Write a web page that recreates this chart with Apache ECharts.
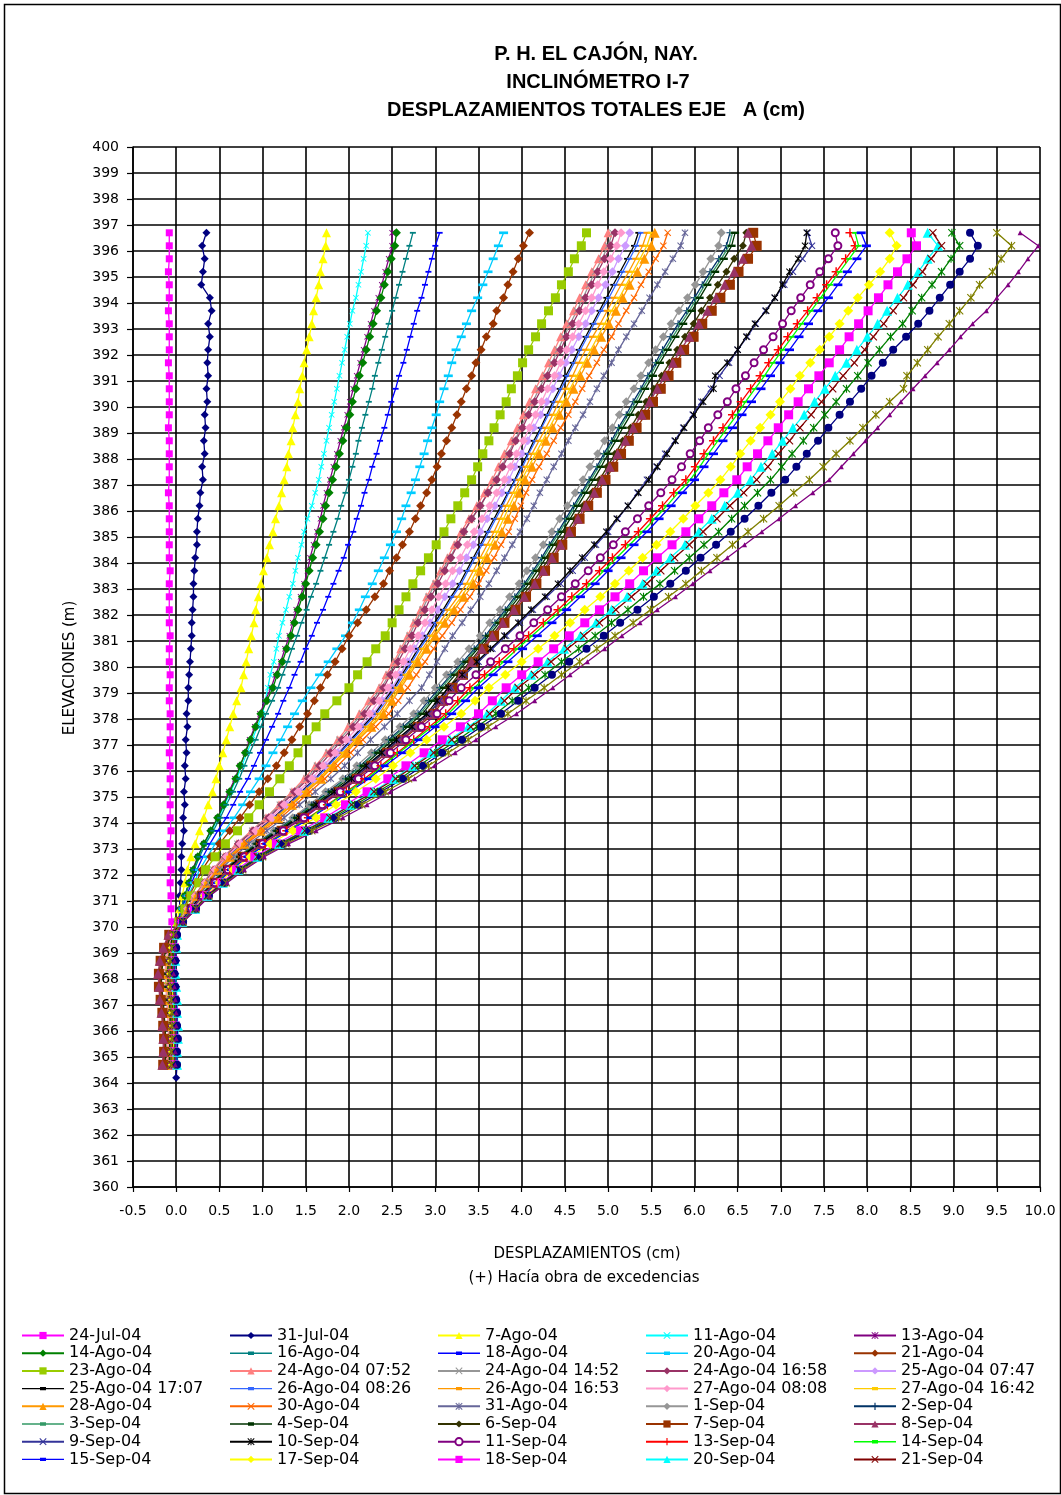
<!DOCTYPE html>
<html>
<head>
<meta charset="utf-8">
<script src="https://cdn.jsdelivr.net/npm/echarts@6/dist/echarts.min.js"></script>
<style>
html,body{margin:0;padding:0;background:#fff;}
#chart{width:1061px;height:1495px;}
</style>
</head>
<body>
<div id="chart"></div>
<script>
// Elevaciones de lectura (m), cada 0.5 m desde la boca del tubo
const ELEV = [396.7,396.2,395.7,395.2,394.7,394.2,393.7,393.2,392.7,392.2,391.7,391.2,390.7,390.2,389.7,389.2,388.7,388.2,387.7,387.2,
  386.7,386.2,385.7,385.2,384.7,384.2,383.7,383.2,382.7,382.2,381.7,381.2,380.7,380.2,379.7,379.2,378.7,378.2,
  377.7,377.2,376.7,376.2,375.7,375.2,374.7,374.2,373.7,373.2,372.7,372.2,371.7,371.2,370.7,370.2,
  369.7,369.2,368.7,368.2,367.7,367.2,366.7,366.2,365.7,365.2,364.7,364.2];

// Desplazamientos totales eje A (cm) por fecha de lectura
const jul24 = [-0.08,-0.08,-0.08,-0.09,-0.08,-0.08,-0.09,-0.08,-0.08,-0.08,-0.09,-0.08,-0.08,-0.08,-0.08,-0.09,-0.08,-0.08,-0.08,-0.08,-0.09,-0.08,-0.08,-0.08,-0.08,-0.08,-0.07,-0.08,-0.08,-0.08,-0.08,-0.07,-0.08,-0.08,-0.07,-0.08,-0.08,-0.07,-0.07,-0.07,-0.08,-0.07,-0.07,-0.07,-0.07,-0.07,-0.06,-0.07,-0.07,-0.06,-0.07,-0.06,-0.06,-0.05,-0.06,-0.07,-0.08,-0.08,-0.07,-0.06,-0.06,-0.05,-0.05,-0.06,-0.06];
const jul31 = [0.35,0.30,0.33,0.31,0.29,0.39,0.41,0.37,0.39,0.37,0.36,0.37,0.35,0.36,0.33,0.34,0.32,0.33,0.30,0.31,0.28,0.27,0.25,0.24,0.24,0.22,0.21,0.20,0.20,0.19,0.18,0.18,0.17,0.16,0.15,0.14,0.14,0.12,0.13,0.11,0.12,0.10,0.11,0.09,0.10,0.08,0.09,0.07,0.06,0.06,0.05,0.04,0.04,0.02,0.00,-0.01,0.00,-0.01,0.00,0.00,0.01,0.00,0.01,0.00,0.01,0.00];
const ago07 = [1.74,1.73,1.70,1.67,1.65,1.62,1.59,1.57,1.54,1.51,1.48,1.46,1.43,1.41,1.38,1.35,1.33,1.30,1.28,1.25,1.22,1.19,1.15,1.12,1.08,1.05,1.01,0.98,0.95,0.92,0.90,0.87,0.84,0.81,0.78,0.75,0.70,0.66,0.62,0.58,0.54,0.50,0.46,0.42,0.37,0.32,0.27,0.22,0.17,0.13,0.10,0.07,0.04,0.01,-0.02,-0.04,-0.05,-0.06,-0.05,-0.05,-0.04,-0.04,-0.05,-0.06,-0.05];
const ago11 = [2.22,2.20,2.17,2.14,2.11,2.08,2.04,2.01,1.98,1.95,1.92,1.89,1.86,1.83,1.80,1.77,1.74,1.71,1.68,1.65,1.61,1.57,1.52,1.48,1.45,1.41,1.38,1.35,1.31,1.27,1.23,1.19,1.16,1.13,1.09,1.06,1.03,1.00,0.94,0.88,0.82,0.76,0.70,0.63,0.56,0.49,0.41,0.33,0.26,0.20,0.15,0.10,0.06,0.02,0.00,-0.01,-0.02,-0.02,-0.01,0.00,0.01,0.01,0.00,0.01,0.02];
const ago13 = [2.50,2.50,2.46,2.42,2.38,2.34,2.29,2.25,2.21,2.17,2.13,2.09,2.05,2.01,1.98,1.94,1.90,1.86,1.82,1.78,1.74,1.70,1.67,1.63,1.59,1.55,1.52,1.48,1.44,1.39,1.35,1.31,1.26,1.21,1.15,1.10,1.03,0.97,0.91,0.85,0.80,0.74,0.68,0.61,0.54,0.48,0.40,0.32,0.25,0.19,0.15,0.10,0.06,0.02,-0.03,-0.05,-0.07,-0.08,-0.07,-0.06,-0.06,-0.05,-0.05,-0.06,-0.06];
const ago14 = [2.55,2.53,2.49,2.45,2.41,2.37,2.32,2.28,2.24,2.20,2.16,2.12,2.08,2.04,2.01,1.97,1.93,1.89,1.85,1.81,1.77,1.73,1.70,1.66,1.62,1.58,1.54,1.50,1.46,1.41,1.37,1.33,1.28,1.23,1.17,1.12,1.05,0.98,0.92,0.86,0.80,0.74,0.69,0.62,0.55,0.48,0.40,0.32,0.25,0.20,0.15,0.10,0.06,0.02,-0.04,-0.06,-0.08,-0.09,-0.08,-0.07,-0.06,-0.06,-0.05,-0.06,-0.07];
const ago16 = [2.74,2.70,2.66,2.62,2.58,2.54,2.50,2.46,2.42,2.38,2.34,2.30,2.27,2.23,2.19,2.15,2.11,2.08,2.04,2.00,1.96,1.91,1.87,1.82,1.77,1.72,1.67,1.62,1.56,1.51,1.45,1.40,1.34,1.29,1.23,1.18,1.11,1.04,0.98,0.92,0.85,0.79,0.73,0.66,0.58,0.51,0.43,0.34,0.27,0.21,0.16,0.10,0.06,0.02,-0.02,-0.04,-0.05,-0.05,-0.04,-0.04,-0.03,-0.03,-0.04,-0.04,-0.05];
const ago18 = [3.05,3.00,2.96,2.92,2.88,2.84,2.79,2.75,2.71,2.67,2.63,2.58,2.54,2.49,2.45,2.41,2.36,2.32,2.27,2.23,2.18,2.14,2.09,2.05,1.99,1.94,1.88,1.82,1.76,1.70,1.63,1.57,1.50,1.44,1.37,1.31,1.24,1.18,1.11,1.04,0.97,0.90,0.83,0.74,0.66,0.58,0.48,0.39,0.31,0.24,0.18,0.12,0.07,0.02,-0.01,-0.03,-0.04,-0.04,-0.03,-0.02,-0.02,-0.01,-0.02,-0.03,-0.03];
const ago20 = [3.79,3.73,3.67,3.61,3.55,3.49,3.42,3.36,3.30,3.24,3.19,3.15,3.10,3.05,3.01,2.96,2.91,2.87,2.82,2.77,2.72,2.66,2.61,2.55,2.48,2.41,2.34,2.27,2.19,2.12,2.04,1.96,1.86,1.76,1.66,1.56,1.46,1.37,1.29,1.21,1.12,1.04,0.96,0.86,0.77,0.67,0.56,0.45,0.36,0.27,0.21,0.14,0.08,0.03,0.00,-0.01,-0.02,-0.03,-0.02,-0.01,0.00,0.00,-0.01,-0.01,0.00];
const ago21 = [4.09,4.02,3.96,3.90,3.84,3.79,3.71,3.67,3.59,3.53,3.47,3.42,3.36,3.30,3.25,3.19,3.13,3.07,3.02,2.96,2.90,2.83,2.77,2.70,2.62,2.55,2.47,2.40,2.30,2.20,2.10,2.00,1.92,1.84,1.75,1.67,1.60,1.52,1.43,1.34,1.25,1.16,1.06,0.96,0.85,0.74,0.62,0.50,0.40,0.30,0.23,0.15,0.09,0.03,-0.06,-0.12,-0.16,-0.18,-0.18,-0.16,-0.15,-0.14,-0.13,-0.12,-0.12];
const ago23 = [4.75,4.69,4.61,4.54,4.46,4.39,4.31,4.23,4.16,4.08,4.01,3.95,3.88,3.82,3.75,3.68,3.62,3.55,3.49,3.42,3.34,3.26,3.18,3.10,3.01,2.92,2.83,2.74,2.66,2.58,2.50,2.42,2.31,2.21,2.10,2.00,1.86,1.72,1.62,1.51,1.41,1.31,1.20,1.08,0.96,0.84,0.71,0.57,0.45,0.34,0.26,0.17,0.10,0.03,-0.03,-0.06,-0.08,-0.09,-0.09,-0.08,-0.07,-0.06,-0.06,-0.07,-0.08];
const ago24a = [5.00,4.96,4.89,4.81,4.74,4.67,4.60,4.52,4.45,4.38,4.31,4.24,4.16,4.09,4.02,3.95,3.88,3.80,3.73,3.66,3.57,3.48,3.39,3.30,3.22,3.14,3.06,2.98,2.90,2.83,2.75,2.68,2.60,2.52,2.43,2.35,2.23,2.12,1.99,1.87,1.74,1.61,1.48,1.34,1.19,1.04,0.87,0.70,0.55,0.42,0.32,0.21,0.13,0.04,-0.05,-0.09,-0.12,-0.13,-0.12,-0.11,-0.10,-0.09,-0.09,-0.10,-0.10];
const ago24b = [5.05,5.00,4.93,4.85,4.78,4.71,4.64,4.56,4.49,4.42,4.35,4.28,4.20,4.13,4.06,3.99,3.92,3.84,3.77,3.70,3.61,3.52,3.42,3.33,3.25,3.17,3.08,3.00,2.92,2.85,2.77,2.70,2.62,2.54,2.46,2.38,2.26,2.15,2.02,1.89,1.76,1.63,1.51,1.35,1.20,1.05,0.88,0.71,0.56,0.43,0.32,0.22,0.13,0.04,-0.04,-0.08,-0.11,-0.12,-0.11,-0.10,-0.09,-0.08,-0.08,-0.09,-0.09];
const ago24c = [5.08,5.03,4.96,4.88,4.81,4.74,4.67,4.59,4.52,4.45,4.38,4.30,4.23,4.15,4.08,4.01,3.93,3.86,3.78,3.71,3.61,3.52,3.42,3.33,3.26,3.18,3.11,3.03,2.95,2.88,2.80,2.73,2.65,2.57,2.48,2.40,2.29,2.18,2.05,1.92,1.79,1.66,1.53,1.37,1.22,1.07,0.89,0.72,0.57,0.44,0.33,0.22,0.13,0.04,-0.07,-0.13,-0.17,-0.20,-0.19,-0.17,-0.16,-0.15,-0.14,-0.13,-0.14];
const ago25a = [5.25,5.20,5.12,5.05,4.97,4.89,4.81,4.74,4.66,4.58,4.51,4.43,4.36,4.29,4.22,4.14,4.07,4.00,3.92,3.85,3.77,3.69,3.60,3.52,3.44,3.36,3.28,3.20,3.11,3.03,2.94,2.85,2.76,2.68,2.59,2.50,2.39,2.28,2.14,2.01,1.87,1.73,1.60,1.44,1.28,1.12,0.93,0.75,0.59,0.46,0.34,0.23,0.14,0.05,-0.04,-0.07,-0.10,-0.11,-0.10,-0.09,-0.08,-0.07,-0.07,-0.08,-0.08];
const ago25b = [5.35,5.30,5.22,5.14,5.06,4.98,4.90,4.82,4.74,4.66,4.59,4.51,4.44,4.36,4.29,4.22,4.14,4.07,3.99,3.92,3.84,3.76,3.68,3.60,3.52,3.44,3.36,3.28,3.18,3.09,2.99,2.90,2.80,2.71,2.61,2.52,2.41,2.30,2.16,2.02,1.89,1.75,1.61,1.45,1.29,1.13,0.94,0.76,0.60,0.46,0.35,0.23,0.14,0.05,-0.03,-0.06,-0.08,-0.09,-0.08,-0.07,-0.06,-0.06,-0.06,-0.07,-0.07];
const ago26a = [5.38,5.33,5.25,5.17,5.09,5.01,4.92,4.84,4.76,4.68,4.61,4.53,4.46,4.38,4.31,4.23,4.16,4.08,4.01,3.93,3.85,3.78,3.70,3.62,3.54,3.46,3.38,3.30,3.20,3.11,3.01,2.92,2.82,2.73,2.63,2.54,2.43,2.32,2.18,2.04,1.90,1.76,1.62,1.46,1.30,1.14,0.95,0.77,0.60,0.46,0.35,0.23,0.14,0.05,-0.02,-0.05,-0.07,-0.08,-0.07,-0.06,-0.05,-0.05,-0.05,-0.06,-0.06];
const ago26b = [5.45,5.40,5.32,5.24,5.15,5.07,4.99,4.91,4.82,4.74,4.66,4.59,4.51,4.43,4.36,4.28,4.20,4.12,4.05,3.97,3.90,3.82,3.75,3.68,3.60,3.52,3.44,3.36,3.26,3.15,3.05,2.95,2.85,2.76,2.66,2.56,2.45,2.35,2.21,2.07,1.93,1.79,1.65,1.48,1.32,1.15,0.96,0.78,0.61,0.47,0.35,0.24,0.14,0.05,-0.03,-0.06,-0.09,-0.10,-0.09,-0.08,-0.07,-0.06,-0.07,-0.07,-0.08];
const ago27a = [5.15,5.10,5.03,4.95,4.88,4.81,4.74,4.66,4.59,4.52,4.45,4.38,4.30,4.23,4.16,4.09,4.02,3.94,3.87,3.80,3.71,3.63,3.54,3.45,3.37,3.29,3.20,3.12,3.04,2.96,2.88,2.80,2.71,2.63,2.54,2.45,2.35,2.24,2.11,1.97,1.84,1.70,1.57,1.41,1.25,1.10,0.92,0.74,0.58,0.45,0.34,0.22,0.13,0.04,-0.04,-0.08,-0.11,-0.12,-0.11,-0.10,-0.09,-0.08,-0.08,-0.09,-0.09];
const ago27b = [5.50,5.45,5.37,5.29,5.21,5.13,5.04,4.96,4.88,4.80,4.72,4.64,4.56,4.48,4.40,4.32,4.24,4.16,4.08,4.00,3.93,3.86,3.79,3.72,3.64,3.56,3.48,3.40,3.30,3.19,3.09,2.98,2.88,2.78,2.68,2.58,2.48,2.38,2.24,2.09,1.95,1.81,1.67,1.50,1.33,1.17,0.98,0.79,0.62,0.48,0.36,0.24,0.14,0.05,-0.03,-0.05,-0.07,-0.08,-0.08,-0.07,-0.06,-0.05,-0.05,-0.06,-0.07];
const ago28 = [5.54,5.50,5.42,5.34,5.25,5.17,5.09,5.01,4.92,4.84,4.76,4.68,4.60,4.52,4.44,4.36,4.28,4.20,4.12,4.04,3.97,3.91,3.84,3.77,3.69,3.60,3.52,3.44,3.33,3.22,3.11,3.00,2.90,2.80,2.70,2.60,2.50,2.40,2.26,2.11,1.97,1.82,1.68,1.51,1.34,1.18,0.98,0.79,0.62,0.48,0.36,0.24,0.14,0.05,-0.04,-0.07,-0.10,-0.11,-0.10,-0.09,-0.08,-0.07,-0.07,-0.08,-0.08];
const ago30 = [5.69,5.64,5.55,5.47,5.38,5.30,5.21,5.12,5.04,4.95,4.87,4.78,4.70,4.62,4.54,4.45,4.37,4.29,4.20,4.12,4.05,3.99,3.92,3.85,3.76,3.68,3.59,3.50,3.40,3.29,3.19,3.08,2.98,2.88,2.78,2.68,2.57,2.46,2.31,2.16,2.02,1.87,1.72,1.55,1.38,1.21,1.01,0.81,0.64,0.49,0.37,0.25,0.15,0.05,-0.03,-0.06,-0.08,-0.09,-0.09,-0.08,-0.07,-0.06,-0.06,-0.07,-0.07];
const ago31 = [5.89,5.84,5.75,5.66,5.57,5.48,5.39,5.30,5.21,5.12,5.04,4.95,4.87,4.79,4.71,4.62,4.54,4.46,4.37,4.29,4.21,4.14,4.06,3.98,3.89,3.80,3.71,3.62,3.52,3.41,3.31,3.20,3.11,3.02,2.93,2.84,2.70,2.56,2.41,2.25,2.10,1.95,1.79,1.61,1.43,1.25,1.05,0.84,0.67,0.51,0.38,0.26,0.15,0.05,-0.02,-0.04,-0.06,-0.07,-0.06,-0.05,-0.04,-0.04,-0.04,-0.05,-0.05];
const sep01 = [6.31,6.28,6.19,6.10,6.01,5.92,5.82,5.73,5.64,5.55,5.47,5.38,5.30,5.21,5.13,5.05,4.96,4.88,4.79,4.71,4.62,4.53,4.44,4.35,4.25,4.16,4.06,3.97,3.86,3.75,3.63,3.52,3.39,3.26,3.13,3.00,2.87,2.75,2.59,2.42,2.26,2.09,1.93,1.73,1.54,1.35,1.13,0.91,0.72,0.55,0.41,0.28,0.17,0.06,-0.03,-0.06,-0.09,-0.10,-0.09,-0.08,-0.07,-0.06,-0.06,-0.07,-0.08];
const sep02 = [6.41,6.37,6.28,6.18,6.09,6.00,5.91,5.81,5.72,5.63,5.55,5.46,5.38,5.29,5.21,5.12,5.04,4.95,4.87,4.78,4.69,4.60,4.51,4.42,4.32,4.23,4.13,4.03,3.92,3.81,3.69,3.58,3.45,3.32,3.18,3.05,2.92,2.80,2.63,2.46,2.30,2.13,1.96,1.76,1.57,1.37,1.15,0.92,0.73,0.56,0.42,0.28,0.17,0.06,-0.02,-0.04,-0.05,-0.06,-0.05,-0.04,-0.03,-0.03,-0.03,-0.04,-0.04];
const sep03 = [6.44,6.40,6.31,6.21,6.12,6.03,5.94,5.84,5.75,5.66,5.57,5.49,5.40,5.32,5.23,5.14,5.06,4.97,4.89,4.80,4.71,4.62,4.53,4.44,4.34,4.25,4.15,4.05,3.94,3.83,3.71,3.60,3.47,3.34,3.20,3.07,2.95,2.82,2.65,2.48,2.31,2.14,1.97,1.78,1.58,1.38,1.16,0.93,0.73,0.56,0.42,0.28,0.17,0.06,-0.03,-0.05,-0.07,-0.08,-0.07,-0.06,-0.05,-0.05,-0.05,-0.06,-0.06];
const sep04 = [6.47,6.43,6.34,6.24,6.15,6.06,5.97,5.87,5.78,5.69,5.60,5.52,5.43,5.35,5.26,5.17,5.09,5.00,4.92,4.83,4.74,4.65,4.56,4.47,4.37,4.28,4.18,4.08,3.97,3.85,3.74,3.62,3.49,3.36,3.23,3.10,2.97,2.85,2.68,2.51,2.34,2.17,2.00,1.80,1.60,1.40,1.17,0.94,0.74,0.57,0.43,0.29,0.17,0.06,-0.04,-0.07,-0.09,-0.10,-0.09,-0.08,-0.07,-0.07,-0.07,-0.08,-0.08];
const sep06 = [6.60,6.56,6.46,6.37,6.27,6.18,6.08,5.99,5.89,5.80,5.71,5.62,5.53,5.44,5.35,5.26,5.17,5.08,4.99,4.90,4.81,4.71,4.62,4.52,4.42,4.32,4.22,4.12,4.00,3.89,3.77,3.65,3.52,3.40,3.27,3.15,3.04,2.93,2.75,2.58,2.40,2.23,2.05,1.85,1.64,1.44,1.20,0.97,0.76,0.59,0.44,0.29,0.18,0.06,-0.06,-0.11,-0.15,-0.17,-0.17,-0.15,-0.14,-0.13,-0.12,-0.12,-0.13];
const sep07 = [6.68,6.72,6.62,6.51,6.41,6.30,6.20,6.09,5.99,5.88,5.79,5.70,5.61,5.52,5.43,5.33,5.24,5.15,5.06,4.97,4.87,4.77,4.67,4.57,4.47,4.37,4.27,4.17,4.05,3.93,3.80,3.68,3.56,3.44,3.32,3.20,3.09,2.98,2.80,2.62,2.44,2.26,2.09,1.88,1.67,1.46,1.22,0.98,0.77,0.60,0.45,0.30,0.18,0.06,-0.08,-0.14,-0.18,-0.20,-0.20,-0.18,-0.16,-0.15,-0.14,-0.14,-0.15];
const sep08 = [6.62,6.66,6.56,6.46,6.35,6.25,6.15,6.05,5.94,5.84,5.75,5.66,5.57,5.48,5.39,5.29,5.20,5.11,5.02,4.93,4.84,4.74,4.65,4.55,4.45,4.35,4.25,4.15,4.03,3.91,3.78,3.66,3.54,3.42,3.30,3.18,3.07,2.96,2.78,2.60,2.43,2.25,2.07,1.86,1.66,1.45,1.21,0.98,0.77,0.59,0.44,0.30,0.18,0.06,-0.09,-0.15,-0.19,-0.21,-0.20,-0.19,-0.17,-0.16,-0.15,-0.15,-0.16];
const sep09 = [7.31,7.36,7.25,7.14,7.04,6.93,6.82,6.71,6.61,6.50,6.40,6.29,6.19,6.08,5.98,5.87,5.77,5.66,5.56,5.45,5.34,5.23,5.11,5.00,4.86,4.73,4.59,4.45,4.29,4.13,3.98,3.82,3.66,3.50,3.34,3.18,3.05,2.92,2.74,2.57,2.39,2.22,2.04,1.84,1.64,1.43,1.20,0.96,0.76,0.58,0.44,0.29,0.18,0.06,-0.02,-0.04,-0.05,-0.06,-0.05,-0.04,-0.04,-0.03,-0.03,-0.04,-0.04];
const sep10 = [7.30,7.28,7.20,7.10,7.02,6.93,6.83,6.70,6.60,6.50,6.38,6.24,6.22,6.10,5.99,5.88,5.78,5.68,5.57,5.47,5.35,5.23,5.10,4.98,4.84,4.70,4.56,4.42,4.27,4.11,3.96,3.80,3.64,3.48,3.31,3.15,3.02,2.90,2.73,2.55,2.38,2.20,2.03,1.83,1.62,1.42,1.19,0.96,0.75,0.58,0.44,0.29,0.17,0.06,-0.03,-0.05,-0.07,-0.08,-0.07,-0.06,-0.05,-0.05,-0.05,-0.06,-0.06];
const sep11 = [7.63,7.66,7.55,7.45,7.34,7.23,7.12,7.02,6.91,6.80,6.69,6.59,6.48,6.38,6.27,6.16,6.06,5.95,5.85,5.74,5.61,5.47,5.34,5.20,5.06,4.91,4.77,4.62,4.46,4.30,4.14,3.98,3.81,3.64,3.47,3.30,3.16,3.02,2.84,2.66,2.48,2.30,2.11,1.90,1.69,1.48,1.24,1.00,0.79,0.60,0.45,0.30,0.18,0.06,-0.02,-0.04,-0.06,-0.07,-0.06,-0.05,-0.04,-0.04,-0.04,-0.05,-0.05];
const sep13 = [7.80,7.86,7.75,7.64,7.53,7.42,7.31,7.19,7.08,6.97,6.86,6.76,6.65,6.54,6.44,6.33,6.22,6.11,6.01,5.90,5.76,5.63,5.49,5.35,5.20,5.05,4.90,4.75,4.58,4.42,4.25,4.08,3.91,3.74,3.57,3.40,3.26,3.12,2.93,2.75,2.56,2.37,2.18,1.97,1.75,1.53,1.28,1.03,0.81,0.62,0.47,0.31,0.19,0.06,-0.01,-0.03,-0.04,-0.05,-0.04,-0.03,-0.03,-0.02,-0.02,-0.03,-0.03];
const sep14 = [7.86,7.90,7.79,7.68,7.57,7.46,7.35,7.24,7.13,7.02,6.91,6.81,6.70,6.59,6.49,6.38,6.27,6.16,6.06,5.95,5.81,5.68,5.54,5.40,5.25,5.10,4.95,4.80,4.63,4.46,4.29,4.12,3.95,3.79,3.62,3.45,3.30,3.15,2.96,2.77,2.58,2.39,2.21,1.98,1.76,1.54,1.29,1.04,0.82,0.63,0.47,0.32,0.19,0.06,-0.02,-0.03,-0.05,-0.06,-0.05,-0.04,-0.03,-0.03,-0.03,-0.04,-0.04];
const sep15 = [7.93,7.99,7.88,7.77,7.66,7.55,7.43,7.32,7.21,7.10,6.99,6.88,6.77,6.66,6.55,6.44,6.33,6.22,6.11,6.00,5.86,5.73,5.59,5.45,5.30,5.15,5.00,4.85,4.68,4.52,4.35,4.18,4.01,3.84,3.67,3.50,3.35,3.19,3.00,2.81,2.62,2.42,2.23,2.01,1.79,1.56,1.31,1.05,0.83,0.64,0.48,0.32,0.19,0.06,0.00,-0.01,-0.02,-0.03,-0.02,-0.01,0.00,0.00,0.00,-0.01,-0.01];
const sep17 = [8.26,8.34,8.26,8.15,8.02,7.89,7.78,7.68,7.56,7.45,7.34,7.22,7.11,6.99,6.88,6.76,6.65,6.53,6.42,6.30,6.16,6.01,5.87,5.72,5.56,5.40,5.24,5.08,4.91,4.73,4.56,4.38,4.19,4.00,3.81,3.62,3.46,3.30,3.10,2.90,2.71,2.51,2.31,2.08,1.85,1.62,1.35,1.09,0.86,0.66,0.50,0.33,0.20,0.07,-0.02,-0.04,-0.05,-0.06,-0.05,-0.04,-0.04,-0.03,-0.03,-0.04,-0.04];
const sep18 = [8.51,8.57,8.46,8.35,8.24,8.13,8.01,7.90,7.79,7.68,7.56,7.44,7.32,7.20,7.09,6.97,6.85,6.73,6.61,6.49,6.34,6.20,6.05,5.90,5.74,5.57,5.41,5.25,5.08,4.90,4.73,4.55,4.37,4.19,4.00,3.82,3.66,3.50,3.29,3.08,2.87,2.66,2.45,2.21,1.96,1.72,1.44,1.16,0.91,0.70,0.53,0.35,0.21,0.07,-0.01,-0.02,-0.03,-0.04,-0.03,-0.02,-0.01,-0.01,-0.01,-0.02,-0.02];
const sep20 = [8.70,8.82,8.70,8.59,8.47,8.35,8.23,8.12,8.00,7.88,7.76,7.63,7.51,7.39,7.27,7.14,7.02,6.90,6.77,6.65,6.50,6.35,6.20,6.05,5.89,5.72,5.56,5.40,5.22,5.04,4.86,4.68,4.49,4.30,4.11,3.92,3.76,3.60,3.38,3.17,2.95,2.74,2.52,2.27,2.02,1.76,1.48,1.19,0.94,0.72,0.54,0.36,0.22,0.07,0.01,0.00,-0.01,-0.01,0.00,0.01,0.01,0.02,0.02,0.01,0.01];
const sep21 = [8.76,8.86,8.74,8.64,8.53,8.42,8.30,8.19,8.07,7.97,7.85,7.72,7.60,7.47,7.35,7.22,7.10,6.97,6.85,6.72,6.57,6.41,6.26,6.10,5.94,5.77,5.61,5.45,5.27,5.09,4.90,4.72,4.53,4.34,4.15,3.96,3.80,3.63,3.41,3.19,2.98,2.76,2.54,2.29,2.03,1.78,1.49,1.20,0.94,0.73,0.54,0.36,0.22,0.07,-0.02,-0.04,-0.05,-0.06,-0.06,-0.05,-0.04,-0.04,-0.04,-0.05,-0.05];
// Lecturas posteriores que no figuran en la leyenda
const post1 = [8.98,9.07,8.97,8.86,8.75,8.63,8.52,8.41,8.27,8.14,8.01,7.89,7.76,7.64,7.51,7.38,7.26,7.13,7.01,6.88,6.73,6.58,6.43,6.28,6.11,5.94,5.77,5.60,5.41,5.23,5.04,4.85,4.66,4.46,4.27,4.08,3.89,3.70,3.48,3.26,3.03,2.81,2.59,2.33,2.07,1.81,1.52,1.22,0.96,0.74,0.56,0.37,0.22,0.07,-0.01,-0.02,-0.04,-0.04,-0.03,-0.02,-0.02,-0.01,-0.01,-0.02,-0.02];
const post2 = [9.19,9.28,9.19,9.07,8.96,8.84,8.72,8.59,8.45,8.30,8.18,8.05,7.93,7.80,7.68,7.55,7.43,7.30,7.18,7.05,6.89,6.74,6.58,6.42,6.25,6.07,5.90,5.72,5.53,5.34,5.14,4.95,4.75,4.55,4.35,4.15,3.96,3.76,3.53,3.31,3.08,2.86,2.63,2.37,2.11,1.84,1.54,1.24,0.98,0.75,0.56,0.38,0.23,0.08,0.01,0.00,-0.01,-0.02,-0.01,0.00,0.01,0.01,0.02,0.01,0.01];
const post3 = [9.50,9.67,9.55,9.45,9.30,9.20,9.07,8.95,8.82,8.70,8.58,8.46,8.42,8.26,8.10,7.95,7.80,7.64,7.49,7.33,7.15,6.98,6.80,6.62,6.44,6.26,6.08,5.90,5.70,5.49,5.29,5.08,4.87,4.67,4.46,4.26,4.05,3.84,3.61,3.38,3.15,2.92,2.69,2.42,2.15,1.88,1.57,1.27,1.00,0.77,0.58,0.38,0.23,0.08,-0.03,-0.05,-0.07,-0.08,-0.07,-0.06,-0.05,-0.05,-0.05,-0.06,-0.06];
const post4 = [9.77,9.98,9.86,9.75,9.63,9.50,9.38,9.22,9.08,8.95,8.81,8.67,8.53,8.39,8.26,8.12,7.98,7.84,7.70,7.56,7.37,7.17,6.98,6.78,6.58,6.38,6.18,5.98,5.78,5.57,5.37,5.16,4.96,4.76,4.56,4.36,4.15,3.94,3.70,3.47,3.23,2.99,2.76,2.48,2.21,1.93,1.62,1.30,1.02,0.79,0.59,0.39,0.24,0.08,0.00,-0.01,-0.02,-0.03,-0.02,-0.01,0.00,0.00,0.00,-0.01,-0.01];

const NAMES = ['24-Jul-04','31-Jul-04','7-Ago-04','11-Ago-04','13-Ago-04',
  '14-Ago-04','16-Ago-04','18-Ago-04','20-Ago-04','21-Ago-04',
  '23-Ago-04','24-Ago-04 07:52','24-Ago-04 14:52','24-Ago-04 16:58','25-Ago-04 07:47',
  '25-Ago-04 17:07','26-Ago-04 08:26','26-Ago-04 16:53','27-Ago-04 08:08','27-Ago-04 16:42',
  '28-Ago-04','30-Ago-04','31-Ago-04','1-Sep-04','2-Sep-04',
  '3-Sep-04','4-Sep-04','6-Sep-04','7-Sep-04','8-Sep-04',
  '9-Sep-04','10-Sep-04','11-Sep-04','13-Sep-04','14-Sep-04',
  '15-Sep-04','17-Sep-04','18-Sep-04','20-Sep-04','21-Sep-04'];
const VALUES = [jul24,jul31,ago07,ago11,ago13,ago14,ago16,ago18,ago20,ago21,
  ago23,ago24a,ago24b,ago24c,ago25a,ago25b,ago26a,ago26b,ago27a,ago27b,
  ago28,ago30,ago31,sep01,sep02,sep03,sep04,sep06,sep07,sep08,
  sep09,sep10,sep11,sep13,sep14,sep15,sep17,sep18,sep20,sep21];
const EXTRA_NAMES = ['serie 41','serie 42','serie 43','serie 44'];
const EXTRA_VALUES = [post1,post2,post3,post4];

// Marker shapes
const XMARK = 'path://M1,0L5,4L9,0L10,1L6,5L10,9L9,10L5,6L1,10L0,9L4,5L0,1Z';
const PLUS = 'path://M4.2,0H5.8V4.2H10V5.8H5.8V10H4.2V5.8H0V4.2H4.2Z';
const STAR = 'path://M1,0L5,4L9,0L10,1L6,5L10,9L9,10L5,6L1,10L0,9L4,5L0,1Z M4.3,0H5.7V10H4.3Z';
const DASH = 'path://M0,0H10V3H0Z';
// Legend icon for dash-marked series: thin line with a short bar in the middle
const DASH_ICON = 'path://M0,0M42,9M0,3.8H42V5.2H0Z M18,2.8H24V6.2H18Z';

// [color, symbol, size]
const STYLES = [
  ['#FF00FF','rect',7], ['#000080','diamond',8], ['#FFFF00','triangle',9], ['#00FFFF',XMARK,6], ['#800080',STAR,6],
  ['#008000','diamond',9], ['#008080',DASH,6], ['#0000FF',DASH,6], ['#00CCFF',DASH,9], ['#993300','diamond',9],
  ['#99CC00','rect',9], ['#FF8080','triangle',9], ['#969696',XMARK,7], ['#993366','diamond',9], ['#CC99FF','diamond',9],
  ['#000000',DASH,6], ['#3366FF',DASH,6], ['#FF9900',DASH,7], ['#FF99CC','diamond',9], ['#FFCC00',DASH,7],
  ['#FF9900','triangle',10], ['#FF6600',XMARK,7], ['#666699',STAR,7], ['#969696','diamond',9], ['#003366',PLUS,7],
  ['#339966',DASH,6], ['#003300',DASH,8], ['#333300','diamond',8], ['#993300','rect',10], ['#993366','triangle',10],
  ['#333399',XMARK,7], ['#000000',STAR,7], ['#800080','emptyCircle',7], ['#FF0000',PLUS,9], ['#00FF00',DASH,6],
  ['#0000FF',DASH,9], ['#FFFF00','diamond',10], ['#FF00FF','rect',9], ['#00FFFF','triangle',10], ['#800000',XMARK,8]
];
const EXTRA_STYLES = [['#008000',STAR,8], ['#000080','circle',8], ['#808000',STAR,8], ['#800080','triangle',5]];

function makeSeries(name, vals, st) {
  return {
    name: name,
    type: 'line',
    data: vals.map((v, i) => [v, ELEV[i]]),
    symbol: st[1],
    symbolSize: st[2],
    symbolKeepAspect: true,
    showAllSymbol: true,
    lineStyle: { color: st[0], width: 1.3 },
    itemStyle: { color: st[0], borderColor: st[0], borderWidth: st[1] === 'emptyCircle' ? 1.5 : 0 },
    emphasis: { disabled: true },
    z: 3
  };
}

const series = [];
NAMES.forEach((n, i) => series.push(makeSeries(n, VALUES[i], STYLES[i])));
EXTRA_NAMES.forEach((n, i) => series.push(makeSeries(n, EXTRA_VALUES[i], EXTRA_STYLES[i])));

// Leyenda en 5 columnas x 8 filas
const LEG_LEFT = [16, 224, 432, 640, 848];
const legends = LEG_LEFT.map((left, c) => ({
  orient: 'vertical',
  left: left,
  top: 1322,
  itemWidth: 42,
  itemHeight: 9,
  itemGap: 0.7,
  selectedMode: false,
  textStyle: { fontFamily: 'DejaVu Sans', fontSize: 16, color: '#000', lineHeight: 17 },
  data: NAMES.map((n, i) => ({ n, i }))
    .filter(o => o.i % 5 === c)
    .map(o => STYLES[o.i][1] === DASH ? { name: o.n, icon: DASH_ICON } : { name: o.n })
}));

const chart = echarts.init(document.getElementById('chart'), null, { renderer: 'canvas' });
chart.setOption({
  animation: false,
  backgroundColor: '#fff',
  grid: { left: 133, right: 21, top: 147, bottom: 308, containLabel: false },
  xAxis: {
    type: 'value', min: -0.5, max: 10, interval: 0.5,
    axisLine: { show: true, onZero: false, lineStyle: { color: '#000', width: 1.5 } },
    axisTick: { show: true, length: 5, lineStyle: { color: '#000', width: 1.2 } },
    axisLabel: { formatter: v => v.toFixed(1), fontFamily: 'DejaVu Sans', fontSize: 14, color: '#000', margin: 17 },
    splitLine: { show: true, lineStyle: { color: '#000', width: 1.6 } }
  },
  yAxis: {
    type: 'value', min: 360, max: 400, interval: 1,
    axisLine: { show: true, onZero: false, lineStyle: { color: '#000', width: 1.5 } },
    axisTick: { show: true, length: 6, lineStyle: { color: '#000', width: 1.2 } },
    axisLabel: { fontFamily: 'DejaVu Sans', fontSize: 14, color: '#000', margin: 14 },
    splitLine: { show: true, lineStyle: { color: '#000', width: 1.6 } }
  },
  legend: legends,
  graphic: [
    { type: 'rect', left: 2, top: 2, shape: { width: 1056, height: 1489 }, style: { fill: 'none', stroke: '#000', lineWidth: 1.5 }, silent: true },
    { type: 'text', x: 596, y: 54, style: { text: 'P. H. EL CAJÓN, NAY.', font: 'bold 20px "Liberation Sans", Arial', fill: '#000', textAlign: 'center', textVerticalAlign: 'middle' } },
    { type: 'text', x: 598, y: 82, style: { text: 'INCLINÓMETRO I-7', font: 'bold 20px "Liberation Sans", Arial', fill: '#000', textAlign: 'center', textVerticalAlign: 'middle' } },
    { type: 'text', x: 596, y: 110, style: { text: 'DESPLAZAMIENTOS TOTALES EJE   A (cm)', font: 'bold 20px "Liberation Sans", Arial', fill: '#000', textAlign: 'center', textVerticalAlign: 'middle' } },
    { type: 'text', x: 587, y: 1254, style: { text: 'DESPLAZAMIENTOS (cm)', font: '15px "DejaVu Sans"', fill: '#000', textAlign: 'center', textVerticalAlign: 'middle' } },
    { type: 'text', x: 584, y: 1278, style: { text: '(+) Hacía obra de excedencias', font: '15px "DejaVu Sans"', fill: '#000', textAlign: 'center', textVerticalAlign: 'middle' } },
    { type: 'text', x: 70, y: 668, rotation: Math.PI / 2, style: { text: 'ELEVACIONES (m)', font: '15px "DejaVu Sans"', fill: '#000', textAlign: 'center', textVerticalAlign: 'middle' } }
  ],
  series: series
});
</script>
</body>
</html>
